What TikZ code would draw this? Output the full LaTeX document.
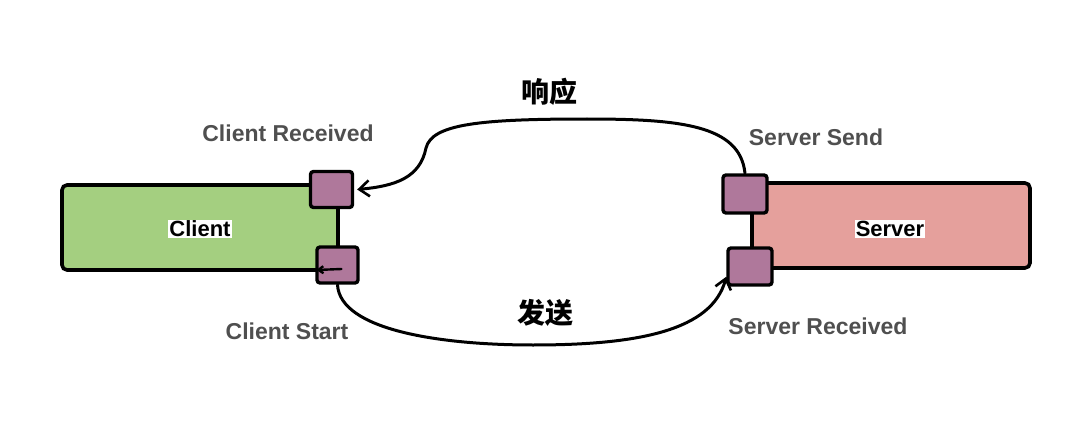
\documentclass[tikz,border=0pt]{standalone}
\usepackage{fontspec}
\setmainfont{Liberation Sans}
\newfontfamily\cjk{Noto Sans CJK SC}
\usetikzlibrary{arrows.meta}
\definecolor{greenfill}{HTML}{A4CF80}
\definecolor{pinkfill}{HTML}{E5A09C}
\definecolor{purplefill}{HTML}{AF789B}
\definecolor{labelgray}{HTML}{4F4F4F}
\tikzset{
  x=1pt, y=-1pt,
  bigbox/.style={draw=black, line width=3.6pt, rounded corners=5pt, inner sep=0pt},
  portbox/.style={draw=black, line width=3.4pt, rounded corners=3pt, fill=purplefill, inner sep=0pt},
  boxtext/.style={fill=white, inner sep=1pt, text=black, font=\fontsize{22}{26}\selectfont\bfseries},
  portlabel/.style={text=labelgray, inner sep=0pt, font=\fontsize{23}{27}\selectfont\bfseries},
  cjklabel/.style={text=black, inner sep=0pt, font=\fontsize{28}{32}\selectfont\cjk\bfseries},
  flow/.style={draw=black, line width=3pt, line cap=round, -{Straight Barb[length=10pt,width=16pt,line width=2.6pt]}},
}
\begin{document}
\begin{tikzpicture}
\useasboundingbox (0,0) rectangle (1080,436);
% main boxes
\node[bigbox, fill=greenfill, minimum width=276pt, minimum height=85pt] (client) at (200,227.5) {};
\node[bigbox, fill=pinkfill, minimum width=278pt, minimum height=85pt] (server) at (891,225.5) {};
\node[boxtext] (clientlbl) at (200,229) {Client};
\node[boxtext] (serverlbl) at (890,229) {Server};
% ports
\node[portbox, minimum width=42pt, minimum height=36pt] (cr) at (331.5,189.5) {};
\node[portbox, minimum width=41pt, minimum height=36pt] (cs) at (337.5,265) {};
\node[portbox, minimum width=44pt, minimum height=38pt] (ss) at (745,194) {};
\node[portbox, minimum width=44pt, minimum height=37pt] (sr) at (750,266.5) {};
% labels
\node[portlabel] (crl) at (288,133) {Client Received};
\node[portlabel] (csl) at (287,331) {Client Start};
\node[portlabel] (ssl) at (816,137) {Server Send};
\node[portlabel] (srl) at (818,326) {Server Received};
\node[cjklabel] (resp) at (549,92) {响应};
\node[cjklabel] (send) at (545,313) {发送};
% connectors
\coordinate (crin) at ([xshift=3pt]cr.east);
\coordinate (srin) at ([yshift=10pt]sr.south west);
\draw[flow] (ss.north) .. controls (740,125) and (680,119) .. (587,119)
  .. controls (480,119) and (432,124) .. (426,148)
  .. controls (420,178) and (395,186) .. (crin);
\draw[flow] (cs.south) .. controls (340,330) and (440,345) .. (533,345)
  .. controls (640,345) and (712,330) .. (srin);
\coordinate (csmark) at ([xshift=1pt,yshift=-5pt]cs.west);
\draw[draw=black, line width=2.4pt, line cap=round, -{Straight Barb[length=5pt,width=7pt]}] ([xshift=4pt,yshift=-4pt]cs.center) -- (csmark);
\end{tikzpicture}
\end{document}
